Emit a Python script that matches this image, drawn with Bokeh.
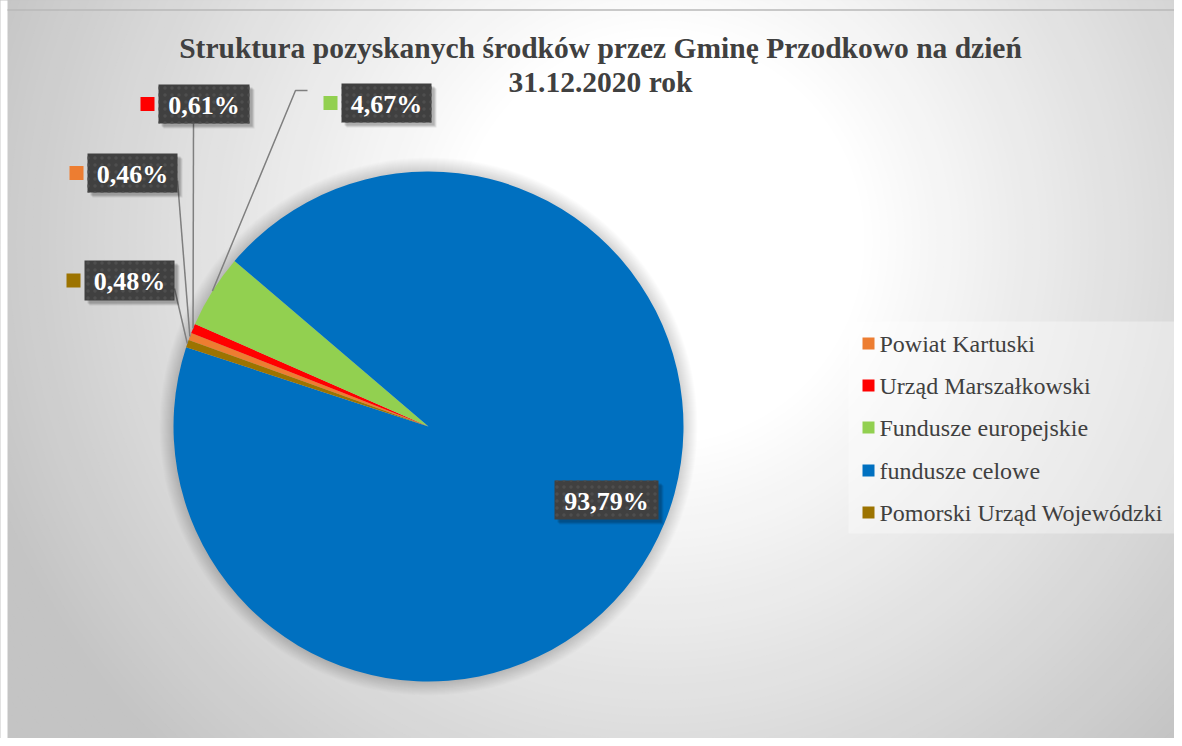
import numpy as np
from bokeh.plotting import figure
from bokeh.models import Range1d
from bokeh.core.properties import value
from bokeh.embed import file_html
from bokeh.resources import INLINE

# ---------------- data ----------------
categories = ["Powiat Kartuski", "Urząd Marszałkowski", "Fundusze europejskie",
              "fundusze celowe", "Pomorski Urząd Wojewódzki"]
shares = [0.46, 0.61, 4.67, 93.79, 0.48]
share_labels = ["0,46%", "0,61%", "4,67%", "93,79%", "0,48%"]
title_lines = ["Struktura pozyskanych środków przez Gminę Przodkowo na dzień",
               "31.12.2020 rok"]

# ---------------- style / layout ----------------
colors = ["#ED7D31", "#FF0000", "#92D050", "#0070C0", "#9C7300"]
W, H = 1174, 738
OX, OY = 0, 8


def sy(y):                          # screen y -> data y (y up)
    return OY + H - y


CX, CY, R = 428, sy(426), 255
START = 160.17                      # first slice angle (deg, ccw from +x), clockwise

box_cx = [132, 203.5, 386, 606, 129]
box_cy = [172.5, 103.5, 102.5, 499.5, 280]
box_w = [90, 91, 90, 104, 90]
box_h = [39, 39, 39, 39, 40]
show_key = [True, True, True, False, True]

p = figure(width=W, height=H, x_range=Range1d(OX, OX + W), y_range=Range1d(OY, OY + H),
           output_backend="svg", toolbar_location=None, min_border=0)
p.axis.visible = False
p.grid.visible = False
p.outline_line_color = None
p.background_fill_color = "#c4c4c4"
p.border_fill_color = "white"

# background radial gradient
gcx, gcy = 660, sy(240)
radii = np.arange(1100, 200, -8)
def gray(r):
    t = np.clip((r - 200) / 520.0, 0, 1)
    v = int(round(255 - t * (255 - 196)))
    return "#%02x%02x%02x" % (v, v, v)
p.circle(x=[gcx] * len(radii), y=[gcy] * len(radii), radius=list(radii),
         fill_color=[gray(r) for r in radii], line_color=None)
p.circle(x=[gcx], y=[gcy], radius=[200], fill_color="white", line_color=None)

# white page strip at the left edge and thin top border
p.quad(left=[-20], right=[7], top=[sy(-20)], bottom=[sy(800)], fill_color="white",
       line_color=None)
p.line([7, 1200], [sy(9.5), sy(9.5)], line_color="#b8b8b8", line_width=1.5)

# pie soft shadow
for k in range(14, 0, -1):
    p.circle(x=[CX], y=[CY], radius=[R + k], fill_color="black", fill_alpha=0.01,
             line_color=None)

# wedges from values
vals = np.array(shares, dtype=float)
frac = vals / vals.sum() * 360.0
cum = np.concatenate([[0], np.cumsum(frac)])
starts = START - cum[:-1]
ends = START - cum[1:]
mids = (starts + ends) / 2
p.wedge(x=[CX] * 5, y=[CY] * 5, radius=R, start_angle=list(np.radians(starts)),
        end_angle=list(np.radians(ends)), direction="clock",
        fill_color=colors, line_color=None)

# leader lines (end point at slice middle on rim)
anchors = {0: [(177, 180)], 1: [(193, 123)], 2: [(307, 90), (295, 90)], 4: [(174, 288)]}
for i, pts in anchors.items():
    ex = CX + R * np.cos(np.radians(mids[i]))
    ey = CY + R * np.sin(np.radians(mids[i]))
    xs = [a for a, b in pts] + [ex]
    ys = [sy(b) for a, b in pts] + [ey]
    p.line(xs, ys, line_color="#7f7f7f", line_width=1.5)

# label boxes
for i in range(5):
    l = box_cx[i] - box_w[i] / 2
    r = box_cx[i] + box_w[i] / 2
    t = sy(box_cy[i] - box_h[i] / 2)
    b = sy(box_cy[i] + box_h[i] / 2)
    for d, a in [(5, 0.08), (4, 0.1), (3, 0.12)]:
        p.quad(left=[l + d], right=[r + d], top=[t - d], bottom=[b - d],
               fill_color="black", fill_alpha=a, line_color=None)
    p.quad(left=[l], right=[r], top=[t], bottom=[b], fill_color="#404040",
           line_color=None, hatch_pattern="dot", hatch_color="#4e4e4e",
           hatch_scale=7, hatch_weight=1.0)
    p.text(x=[box_cx[i]], y=[sy(box_cy[i]) - 1], text=[share_labels[i]],
           text_font=value("Liberation Serif"), text_font_style="bold",
           text_font_size="26px", text_color="white", text_align="center",
           text_baseline="middle")
    if show_key[i]:
        kx = l - 11
        p.rect(x=[kx], y=[sy(box_cy[i])], width=14, height=14,
               fill_color=colors[i], line_color=None)

# legend
p.quad(left=[848], right=[1175], top=[sy(321)], bottom=[sy(533)],
       fill_color="white", fill_alpha=0.35, line_color=None)
rows = [343, 385, 427, 470, 512]
for i in range(5):
    p.rect(x=[868], y=[sy(rows[i])], width=12, height=12, fill_color=colors[i],
           line_color=None)
    p.text(x=[879], y=[sy(rows[i])], text=[categories[i]],
           text_font=value("Liberation Serif"), text_font_size="24px",
           text_color="#404040", text_align="left", text_baseline="middle")

# title
for j, ty in enumerate([47, 81]):
    p.text(x=[600], y=[sy(ty)], text=[title_lines[j]],
           text_font=value("Liberation Serif"), text_font_style="bold",
           text_font_size="29.5px", text_color="#404040", text_align="center",
           text_baseline="middle")

open("out.html", "w").write(file_html(p, INLINE))
